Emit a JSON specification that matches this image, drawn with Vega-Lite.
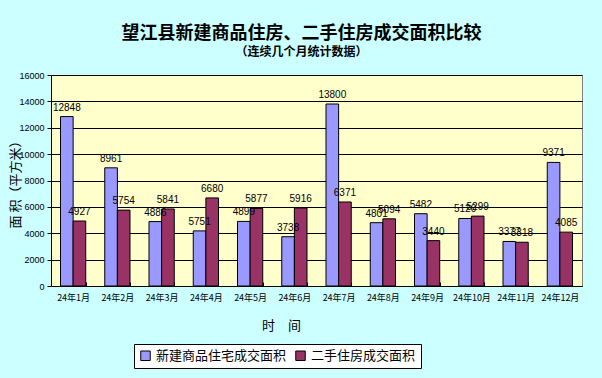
{
  "$schema": "https://vega.github.io/schema/vega-lite/v6.json",
  "width": 531,
  "height": 211,
  "autosize": {"type": "none"},
  "padding": {"left": 51, "top": 75, "right": 20, "bottom": 92},
  "background": "#CCFFFF",
  "title": {
    "text": "望江县新建商品住房、二手住房成交面积比较",
    "subtitle": "（连续几个月统计数据）",
    "anchor": "middle",
    "dx": -15,
    "offset": 13,
    "font": "Noto Sans CJK SC",
    "fontSize": 18,
    "fontWeight": "bold",
    "color": "#000000",
    "subtitleFont": "Noto Sans CJK SC",
    "subtitleFontSize": 12,
    "subtitleFontWeight": "bold",
    "subtitleColor": "#000000",
    "subtitlePadding": 4
  },
  "data": {
    "values": [
      {"month": "24年1月", "series": "新建商品住宅成交面积", "value": 12848, "label": "12848"},
      {"month": "24年1月", "series": "二手住房成交面积", "value": 4927, "label": "4927"},
      {"month": "24年2月", "series": "新建商品住宅成交面积", "value": 8961, "label": "8961"},
      {"month": "24年2月", "series": "二手住房成交面积", "value": 5754, "label": "5754"},
      {"month": "24年3月", "series": "新建商品住宅成交面积", "value": 4886, "label": "4886"},
      {"month": "24年3月", "series": "二手住房成交面积", "value": 5841, "label": "5841"},
      {"month": "24年4月", "series": "新建商品住宅成交面积", "value": 4180, "label": "5751"},
      {"month": "24年4月", "series": "二手住房成交面积", "value": 6680, "label": "6680"},
      {"month": "24年5月", "series": "新建商品住宅成交面积", "value": 4899, "label": "4899"},
      {"month": "24年5月", "series": "二手住房成交面积", "value": 5877, "label": "5877"},
      {"month": "24年6月", "series": "新建商品住宅成交面积", "value": 3738, "label": "3738"},
      {"month": "24年6月", "series": "二手住房成交面积", "value": 5916, "label": "5916"},
      {"month": "24年7月", "series": "新建商品住宅成交面积", "value": 13800, "label": "13800"},
      {"month": "24年7月", "series": "二手住房成交面积", "value": 6371, "label": "6371"},
      {"month": "24年8月", "series": "新建商品住宅成交面积", "value": 4801, "label": "4801"},
      {"month": "24年8月", "series": "二手住房成交面积", "value": 5094, "label": "5094"},
      {"month": "24年9月", "series": "新建商品住宅成交面积", "value": 5482, "label": "5482"},
      {"month": "24年9月", "series": "二手住房成交面积", "value": 3440, "label": "3440"},
      {"month": "24年10月", "series": "新建商品住宅成交面积", "value": 5120, "label": "5120"},
      {"month": "24年10月", "series": "二手住房成交面积", "value": 5299, "label": "5299"},
      {"month": "24年11月", "series": "新建商品住宅成交面积", "value": 3377, "label": "3377"},
      {"month": "24年11月", "series": "二手住房成交面积", "value": 3318, "label": "3318"},
      {"month": "24年12月", "series": "新建商品住宅成交面积", "value": 9371, "label": "9371"},
      {"month": "24年12月", "series": "二手住房成交面积", "value": 4085, "label": "4085"}
    ]
  },
  "encoding": {
    "x": {
      "field": "month",
      "type": "ordinal",
      "sort": ["24年1月", "24年2月", "24年3月", "24年4月", "24年5月", "24年6月", "24年7月", "24年8月", "24年9月", "24年10月", "24年11月", "24年12月"],
      "scale": {"paddingInner": 0.43, "paddingOuter": 0.215},
      "axis": {
        "title": "时　间",
        "titleFont": "Noto Sans CJK SC",
        "titleFontSize": 13,
        "titleFontWeight": "normal",
        "titleColor": "#000000",
        "titleX": 230,
        "titleY": 39,
        "titleBaseline": "middle",
        "labelAngle": 0,
        "labelFont": "Noto Sans CJK SC",
        "labelFontSize": 9,
        "labelColor": "#000000",
        "labelPadding": 15,
        "labelBaseline": "middle",
        "tickBand": "extent",
        "tickSize": -4,
        "tickColor": "#000000",
        "domainColor": "#000000",
        "domainWidth": 1
      }
    },
    "xOffset": {
      "field": "series",
      "type": "nominal",
      "sort": ["新建商品住宅成交面积", "二手住房成交面积"],
      "scale": {"paddingInner": 0, "paddingOuter": 0}
    },
    "y": {
      "field": "value",
      "type": "quantitative",
      "scale": {"domain": [0, 16000], "nice": false},
      "axis": {
        "values": [0, 2000, 4000, 6000, 8000, 10000, 12000, 14000, 16000],
        "format": "d",
        "title": "面 积（平方米）",
        "titleFont": "Noto Sans CJK SC",
        "titleFontSize": 13,
        "titleFontWeight": "normal",
        "titleColor": "#000000",
        "titleX": -36,
        "titleY": 106,
        "titleBaseline": "middle",
        "labelFont": "Liberation Sans",
        "labelFontSize": 9,
        "labelColor": "#000000",
        "labelPadding": 3,
        "tickSize": 4,
        "tickColor": "#000000",
        "domainColor": "#000000",
        "grid": true,
        "gridColor": "#000000",
        "gridOpacity": 1,
        "gridWidth": 1
      }
    }
  },
  "layer": [
    {
      "mark": {"type": "bar", "stroke": "#000000", "strokeWidth": 1},
      "encoding": {
        "color": {
          "field": "series",
          "type": "nominal",
          "scale": {
            "domain": ["新建商品住宅成交面积", "二手住房成交面积"],
            "range": ["#9999FF", "#993366"]
          },
          "legend": {
            "title": null,
            "orient": "none",
            "legendX": 83,
            "legendY": 269,
            "direction": "horizontal",
            "fillColor": "#FFFFFF",
            "strokeColor": "#000000",
            "padding": 5,
            "symbolType": "square",
            "symbolSize": 90,
            "symbolStrokeColor": "#000000",
            "symbolStrokeWidth": 1,
            "symbolOpacity": 1,
            "labelFont": "Noto Sans CJK SC",
            "labelFontSize": 13,
            "labelColor": "#000000",
            "labelOffset": 4,
            "columnPadding": 6
          }
        }
      }
    },
    {
      "mark": {
        "type": "text",
        "baseline": "bottom",
        "dy": -4,
        "font": "Liberation Sans",
        "fontSize": 10,
        "color": "#000000"
      },
      "encoding": {
        "text": {"field": "label"}
      }
    }
  ],
  "config": {
    "view": {"fill": "#FFFFCC", "stroke": "#808080", "strokeWidth": 1}
  }
}
